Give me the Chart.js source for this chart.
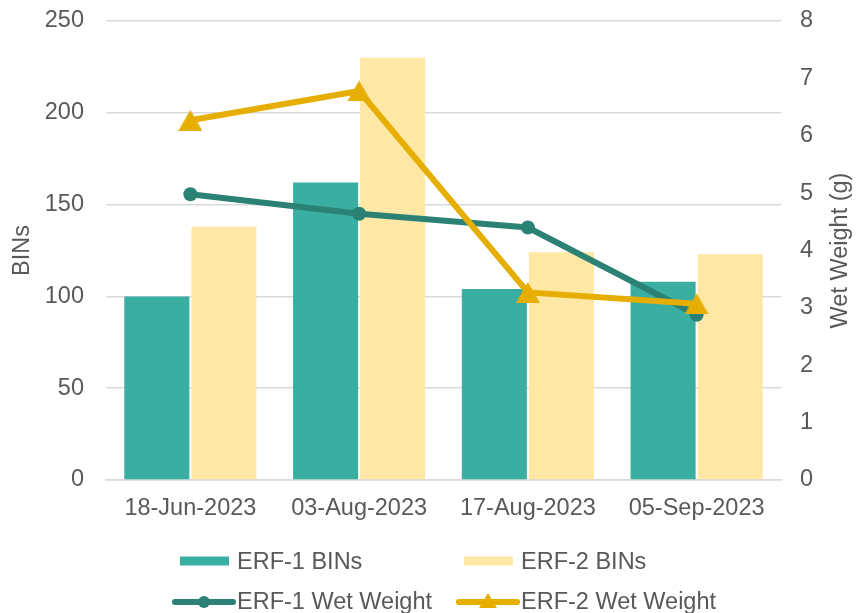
<!DOCTYPE html>
<html><head><meta charset="utf-8">
<script src="https://cdn.jsdelivr.net/npm/chart.js@4"></script>
<style>html,body{margin:0;padding:0;background:#fff}#wrap{width:857px;height:613px;position:relative}</style>
</head><body><div id="wrap"><canvas id="c" width="857" height="613"></canvas></div>
<script>
const categories = ['18-Jun-2023', '03-Aug-2023', '17-Aug-2023', '05-Sep-2023'];
const erf1Bins = [100, 162, 104, 108];
const erf2Bins = [138, 230, 124, 123];
const erf1Wet = [4.98, 4.64, 4.40, 2.88];
const erf2Wet = [6.27, 6.78, 3.27, 3.07];
const binsRange = [0, 250, 50];
const wetRange = [0, 8, 1];
const seriesNames = ['ERF-1 BINs', 'ERF-2 BINs', 'ERF-1 Wet Weight', 'ERF-2 Wet Weight'];
const axisNames = ['BINs', 'Wet Weight (g)'];

const TEAL = '#3AAEA1', YELLOW = '#FFE8A6', TEAL_LINE = '#2B8174', GOLD = '#E6AE00';
const TEXT = '#595959', GRID = '#D9D9D9';
const FAMILY = "'Liberation Sans', Arial, sans-serif";
const FSIZE = 23.5;

function triangleCanvas(w, h, color) {
  const c = document.createElement('canvas');
  c.width = w; c.height = h;
  const g = c.getContext('2d');
  g.fillStyle = color;
  g.beginPath(); g.moveTo(w / 2, 0); g.lineTo(w, h); g.lineTo(0, h); g.closePath(); g.fill();
  return c;
}
const triMarker = triangleCanvas(24, 21, GOLD);

const customDecor = {
  id: 'customDecor',
  afterDraw(chart) {
    const ctx = chart.ctx, a = chart.chartArea;
    ctx.save();
    ctx.fillStyle = TEXT;
    ctx.font = FSIZE + 'px ' + FAMILY;
    ctx.textAlign = 'center'; ctx.textBaseline = 'middle';
    const cy = (a.top + a.bottom) / 2;
    ctx.save(); ctx.translate(23, cy); ctx.rotate(-Math.PI / 2); ctx.fillText(axisNames[0], 0, 0); ctx.restore();
    ctx.save(); ctx.translate(841, cy); ctx.rotate(-Math.PI / 2); ctx.fillText(axisNames[1], 0, 0); ctx.restore();

    // legend
    const ds = chart.data.datasets;
    const cols = [180, 464], rows = [561.5, 602], iconW = 50, textOff = 57;
    ctx.textAlign = 'left';
    ds.forEach((d, i) => {
      const x = cols[i % 2], y = rows[Math.floor(i / 2)];
      if (d.type === 'bar') {
        ctx.fillStyle = d.backgroundColor;
        ctx.fillRect(x, y - 5, iconW - 1, 9);
      } else {
        const lx0 = x - 5, lx1 = x + iconW + 3;
        ctx.strokeStyle = d.borderColor; ctx.lineWidth = 6; ctx.lineCap = 'round';
        ctx.beginPath(); ctx.moveTo(lx0, y); ctx.lineTo(lx1, y); ctx.stroke();
        const mx = (lx0 + lx1) / 2;
        ctx.fillStyle = d.borderColor;
        if (d.pointStyle === 'circle') {
          ctx.beginPath(); ctx.arc(mx, y, 6, 0, Math.PI * 2); ctx.fill();
        } else {
          ctx.beginPath(); ctx.moveTo(mx, y - 9); ctx.lineTo(mx + 9, y + 6); ctx.lineTo(mx - 9, y + 6); ctx.closePath(); ctx.fill();
        }
      }
      ctx.fillStyle = TEXT;
      ctx.fillText(d.label, x + textOff, y + 1);
    });
    ctx.restore();
  }
};

const tickFont = { family: FAMILY, size: FSIZE };

new Chart(document.getElementById('c'), {
  data: {
    labels: categories,
    datasets: [
      { type: 'bar', label: seriesNames[0], data: erf1Bins, backgroundColor: TEAL, yAxisID: 'y', order: 2,
        categoryPercentage: 0.795, barPercentage: 0.97 },
      { type: 'bar', label: seriesNames[1], data: erf2Bins, backgroundColor: YELLOW, yAxisID: 'y', order: 3,
        categoryPercentage: 0.795, barPercentage: 0.97 },
      { type: 'line', label: seriesNames[2], data: erf1Wet, borderColor: TEAL_LINE, backgroundColor: TEAL_LINE,
        borderWidth: 6, pointStyle: 'circle', pointRadius: 7, pointBorderWidth: 0, pointBackgroundColor: TEAL_LINE,
        yAxisID: 'y1', order: 1, tension: 0 },
      { type: 'line', label: seriesNames[3], data: erf2Wet, borderColor: GOLD, backgroundColor: GOLD,
        borderWidth: 6, pointStyle: triMarker, pointRadius: 12, pointBorderWidth: 0,
        yAxisID: 'y1', order: 0, tension: 0 }
    ]
  },
  options: {
    responsive: false, animation: false, devicePixelRatio: 1,
    layout: { padding: { top: 21, left: 0, right: 0, bottom: 0 } },
    plugins: { legend: { display: false }, tooltip: { enabled: false } },
    scales: {
      x: {
        type: 'category', offset: true,
        grid: { display: true, drawOnChartArea: false, drawTicks: false },
        border: { display: true, color: GRID, width: 1.5 },
        ticks: { font: tickFont, color: TEXT, padding: 14, maxRotation: 0, autoSkip: false },
        afterFit(s) { s.height = 133; s.paddingTop = 0; s.paddingBottom = 0; }
      },
      y: {
        position: 'left', min: binsRange[0], max: binsRange[1],
        ticks: { stepSize: binsRange[2], font: tickFont, color: TEXT, padding: 22 },
        grid: { color: GRID, lineWidth: 1.5, drawTicks: false },
        border: { display: false },
        afterFit(s) { s.width = 106; s.paddingTop = 0; s.paddingBottom = 0; }
      },
      y1: {
        position: 'right', min: wetRange[0], max: wetRange[1],
        ticks: { stepSize: wetRange[2], font: tickFont, color: TEXT, padding: 19 },
        grid: { display: false, drawOnChartArea: false, drawTicks: false },
        border: { display: false },
        afterFit(s) { s.width = 76; s.paddingTop = 0; s.paddingBottom = 0; }
      }
    }
  },
  plugins: [customDecor]
});
</script>
</body></html>
